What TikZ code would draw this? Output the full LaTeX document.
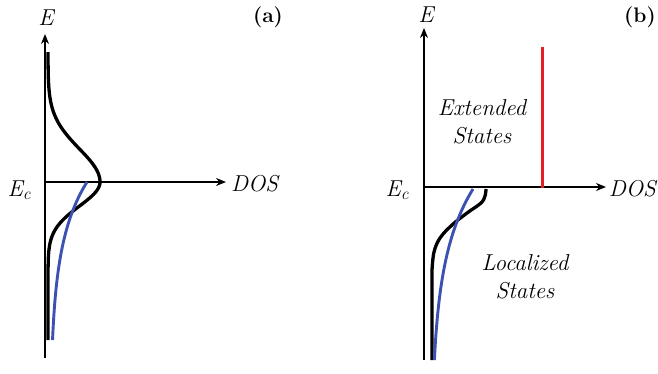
\documentclass[tikz,border=0pt]{standalone}
\usepackage{fontspec}
\usetikzlibrary{arrows.meta}
\definecolor{curveblue}{RGB}{60,82,178}
\definecolor{linered}{RGB}{228,32,36}
\tikzset{
  axisline/.style={line width=1.4pt, -{Stealth[length=10pt,width=8pt]}},
  dosblack/.style={line width=3.3pt, black},
  dosblue/.style={line width=2.9pt, curveblue},
  lbl/.style={font=\rmfamily\fontsize{23}{28}\selectfont\itshape, inner sep=0pt},
  panel/.style={font=\rmfamily\fontsize{21}{24}\selectfont\bfseries, inner sep=0pt},
}
\newcommand{\ecl}{E\raisebox{-0.35ex}{\fontsize{17}{17}\selectfont c}}
\begin{document}
\begin{tikzpicture}[x=1pt,y=-1pt]
\useasboundingbox (0,0) rectangle (658,373);
% ---------- panel (a)
\coordinate (aO) at (45,182);
\coordinate (aTop) at (45,34);
\coordinate (aBot) at (45,358);
\coordinate (aRight) at (226,182);
\draw[axisline] (aBot) -- (aTop);
\draw[axisline] (aO) -- (aRight);
\draw[dosblack] plot[domain=52:182, samples=70, smooth] ({48+52*exp(-0.5*((\x-182)/33)^2)}, \x)
  -- plot[domain=182:270, samples=50, smooth] ({48+52*exp(-0.5*((\x-182)/24)^2)}, \x)
  -- (48,340);
\draw[dosblue] plot[domain=182:340, samples=60, smooth] ({50+37*exp(-(\x-182)/59)}, \x);
\node[lbl] (aE) at (46,18) {E};
\node[lbl, anchor=west] (aDOS) at (231,184) {DOS};
\node[lbl] (aEc) at (19,190) {\ecl};
\node[panel] (aLab) at (268,17) {(a)};
% ---------- panel (b)
\coordinate (bO) at (424,187);
\coordinate (bTop) at (424,28);
\coordinate (bBot) at (424,360);
\coordinate (bRight) at (606,187);
\draw[axisline] (bBot) -- (bTop);
\draw[axisline] (bO) -- (bRight);
\coordinate (rTop) at (542,47);
\coordinate (rBot) at (542,188);
\draw[line width=3pt, linered] (rTop) -- (rBot);
\draw[dosblack] plot[smooth, tension=0.6] coordinates {(486,189) (485,196) (481,203) (467,213) (452,225) (440,238) (434,252) (432,270)} -- (432,360);
\draw[dosblue] plot[domain=189:360, samples=60, smooth] ({431+42*exp(-(\x-189)/68)}, \x);
\node[lbl] (bE) at (426,15) {E};
\node[lbl, anchor=east] (bDOS) at (656,189) {DOS};
\node[lbl] (bEc) at (397,190) {\ecl};
\node[panel] (bLab) at (640,17) {(b)};
\node[lbl, align=center] (ext) at (482,122) {Extended\\States};
\node[lbl, align=center] (loc) at (525,277) {Localized\\States};
\end{tikzpicture}
\end{document}
